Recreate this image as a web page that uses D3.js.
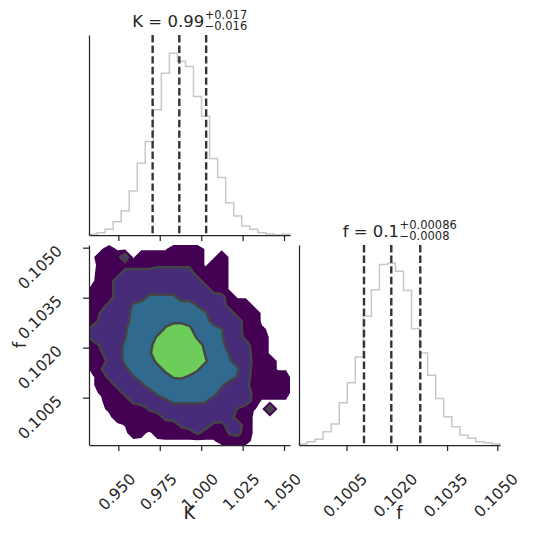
<!DOCTYPE html>
<html>
<head>
<meta charset="utf-8">
<script src="https://cdn.jsdelivr.net/npm/d3@7"></script>
<style>
  html, body { margin: 0; padding: 0; background: #fff; }
  svg { display: block; font-family: "DejaVu Sans", sans-serif; }
</style>
</head>
<body>
<div id="vis"></div>
<script>
// parameter ranges (shared by the 1D and 2D panels)
const kRange = [0.9323, 1.0536]
const fRange = [0.09908, 0.10508]

const kTicks = [0.950, 0.975, 1.000, 1.025, 1.050]
const kTickLabels = ['0.950', '0.975', '1.000', '1.025', '1.050']
const fTicks = [0.1005, 0.1020, 0.1035, 0.1050]
const fTickLabels = ['0.1005', '0.1020', '0.1035', '0.1050']

// 25-bin marginal histograms
const kCounts = [2, 7, 17, 40, 72, 132, 216, 281, 377, 487, 547, 523, 507, 417, 357, 230, 173, 97, 57, 27, 17, 7, 3, 0, 2]
const fCounts = [3, 10, 17, 40, 63, 127, 187, 265, 387, 467, 543, 547, 523, 465, 350, 277, 210, 140, 85, 55, 30, 20, 10, 7, 3]

// 16 / 50 / 84 percentiles
const kQuantiles = [0.9707, 0.9868, 1.0030]
const fQuantiles = [0.10102, 0.101835, 0.10270]

const kTitle = { main: 'K = 0.99', sup: '+0.017', sub: '\u22120.016' }
const fTitle = { main: 'f = 0.1', sup: '+0.00086', sub: '\u22120.0008' }

// 2D density, 25 x 25 cells, first row = highest f
const densityRows = [
  [0,0,1,0,0,0,0,0,0,0,1,1,1,1,0,0,0,0,0,0,0,0,0,0,0],
  [0,1,1,1,2.4,0,1,1,1,1,1,1,1,1,0,0,1,0,0,0,0,0,0,0,0],
  [0,0.4,1,1,1,1,1,1,1.3,1.3,1.3,1.3,1.3,1,0,1,1,0,0,0,0,0,0,0,0],
  [0,0.6,1,1,2,2,2,2,2,2,2,2,2,1,1,1,1,0,0,0,0,0,0,0,0],
  [0,1,1,2,2,2,2,2,2,2,2,2,2,2,1,1,1,0,0,0,0,0,0,0,0],
  [1,1,1,2,2,2,2,2,2,2,2,2,2,2,2,1,1,0,0,0,0,0,0,0,0],
  [1,1,1,2,2,2,2,2.7,2.7,2.7,2.7,2,2,2,2,2,1.8,1,0,0,0,0,0,0,0],
  [1,1,1.8,2,2,2.6,3,3,3,3,3,3,3,2.4,2,2,2,1,1,1,0,0,0,0,0],
  [1,1.6,2,2,2,2.8,3,3,3,3,3,3,3,3,2.6,2,2,2,1,1,1,0,0,0,0],
  [1,1.8,2,2,2,3,3,3,3,3.2,3.3,3.3,3.2,3,3,2,2,2,2,1,1,0,0,0,0],
  [2,2,2,2,2.4,3,3,3,3,3.6,4,4,3.7,3,3,3,2.55,2,2,1,1,0.3,0,0,0],
  [2,2,2,2,2.45,3,3,3,3.6,4.2,4.5,4.4,4.2,3.3,3,3,2.6,2,2,1.2,1,1,0,0,0],
  [1,1.7,2,2,2.7,3,3,3.2,4,4.6,4.8,4.7,4.5,4,3.2,3,2.8,2,2,2,1,1,0,0,0],
  [1,1.4,2,2,2.8,3,3,3.3,4.2,4.7,5,4.8,4.6,4.2,3.4,3,3,2.4,2,2,1.2,1,0,0,0],
  [1,1,1.8,2,2.7,3,3,3.1,3.7,4.3,4.6,4.5,4.4,4,3.6,3,3,2.6,2,2,1.3,1,1,0,0],
  [1,1.45,2,2,2.3,3,3,3,3.2,3.7,4.2,4.1,3.9,3.6,3.1,3,3,3,2.6,2,1.2,1,1,0,0],
  [0,1,1.7,2,2,2.4,3,3,3,3.2,3.55,3.6,3.4,3.2,3,3,3,3,2.4,2,1.1,1,1,1,1],
  [0,1,1,1.8,2,2,2.3,3,3,3,3.1,3.1,3,3,3,3,2.7,2,2,1.8,1,1,1,1,1],
  [0,0.25,1,1,1.8,2,2,2,2.7,3,3,3,3,3,3,2.9,2,2,2,2,1.3,1,1,1,1],
  [0,0,1,1,1,1.7,2,2,2,2.3,2.7,2.7,2.7,2.7,2.6,2,2,2,2,2,1.2,0,0,0,0],
  [0,0,0.3,1,1,1,1,1.6,2,2,2,2,2,2,2,2,2,2,1.45,1,0.2,0,2.6,0,0],
  [0,0,0,0.6,1,1,1,1,1,1.8,2,2,2,2,2,2,2,1.9,1,1,0,0,0,0,0],
  [0,0,0,0,0.2,1,1,1,1,1,1,1.7,2,2,2,1.3,1.2,2,2,1,0,0,0,0,0],
  [0,0,0,0,0,0.6,0.4,0,0.6,1,1,1,1,1.7,1,1,1,1.6,1.8,1,0,0,0,0,0],
  [0,0,0,0,0,0,0,0,0,0,0,0,0,0,0,0,1,1,1,0.4,0,0,0,0,0]
]
const levels = [0.15, 1.5, 2.5, 3.5]
const levelColors = ['#440154', '#472c7a', '#306a8e', '#6ccd5a']

const ink = '#262626'
const tickFont = 15.5
const width = 533, height = 534

// panel boxes
const colX = [89, 299], panelW = 201
const rowY = [35, 245], panelH = 200

let svg = d3.select('#vis').append('svg')
  .attr('width', width)
  .attr('height', height)

// scales
const kX = d3.scaleLinear().domain(kRange).range([colX[0], colX[0] + panelW])
const fX = d3.scaleLinear().domain(fRange).range([colX[1], colX[1] + panelW])
const fY = d3.scaleLinear().domain(fRange).range([rowY[1] + panelH, rowY[1]])
const kHistY = d3.scaleLinear().domain([0, 1.1 * d3.max(kCounts)]).range([rowY[0] + panelH, rowY[0]])
const fHistY = d3.scaleLinear().domain([0, 1.1 * d3.max(fCounts)]).range([rowY[1] + panelH, rowY[1]])

// ---------- 2D panel: filled contours ----------
const nx = densityRows[0].length, ny = densityRows.length
const dk = (kRange[1] - kRange[0]) / nx
const df = (fRange[1] - fRange[0]) / ny

svg.append('clipPath').attr('id', 'clip2d')
  .append('rect')
  .attr('x', colX[0]).attr('y', rowY[1])
  .attr('width', panelW).attr('height', panelH)

const contours = d3.contours()
  .size([nx, ny])
  .thresholds(levels)(densityRows.flat())

const proj = d3.geoTransform({
  point: function (x, y) {
    this.stream.point(kX(kRange[0] + x * dk), fY(fRange[1] - y * df))
  }
})
const path = d3.geoPath(proj)

const g2d = svg.append('g').attr('clip-path', 'url(#clip2d)')

g2d.selectAll('path.fill')
  .data(contours)
  .enter()
  .append('path')
  .attr('class', 'fill')
  .attr('d', path)
  .attr('fill', (d, i) => levelColors[i])
  .attr('fill-rule', 'evenodd')

// contour lines (not on the outermost level)
g2d.selectAll('path.line')
  .data(contours.slice(1))
  .enter()
  .append('path')
  .attr('class', 'line')
  .attr('d', path)
  .attr('fill', 'none')
  .attr('stroke', '#454545')
  .attr('stroke-width', 2.4)
  .attr('stroke-linejoin', 'round')

// ---------- 1D histograms ----------
function stepPoints(counts, lo, bw) {
  let pts = [[lo, 0]]
  counts.forEach((c, i) => {
    pts.push([lo + i * bw, c])
    pts.push([lo + (i + 1) * bw, c])
  })
  pts.push([lo + counts.length * bw, 0])
  return pts
}

svg.append('path')
  .datum(stepPoints(kCounts, kRange[0], (kRange[1] - kRange[0]) / kCounts.length))
  .attr('d', d3.line().x(d => kX(d[0])).y(d => kHistY(d[1])))
  .attr('fill', 'none')
  .attr('stroke', '#c8c8c8')
  .attr('stroke-width', 1.5)

svg.append('path')
  .datum(stepPoints(fCounts, fRange[0], (fRange[1] - fRange[0]) / fCounts.length))
  .attr('d', d3.line().x(d => fX(d[0])).y(d => fHistY(d[1])))
  .attr('fill', 'none')
  .attr('stroke', '#c8c8c8')
  .attr('stroke-width', 1.5)

// quantile lines
function quantLines(q, xs, y0, y1) {
  svg.selectAll(null)
    .data(q)
    .enter()
    .append('line')
    .attr('x1', d => xs(d)).attr('x2', d => xs(d))
    .attr('y1', y0).attr('y2', y1)
    .attr('stroke', '#333')
    .attr('stroke-width', 2.4)
    .attr('stroke-dasharray', '7.4,3.2')
}
quantLines(kQuantiles, kX, rowY[0], rowY[0] + panelH)
quantLines(fQuantiles, fX, rowY[1], rowY[1] + panelH)

// ---------- axes ----------
function styleAxis(g) {
  g.select('.domain').attr('stroke', ink).attr('stroke-width', 1.25)
  g.selectAll('.tick line').attr('stroke', ink).attr('stroke-width', 1.25)
  g.selectAll('.tick text')
    .attr('fill', ink)
    .attr('font-size', tickFont)
    .attr('font-family', '"DejaVu Sans", sans-serif')
}

function rotateBottomLabels(g) {
  g.selectAll('.tick text').each(function () {
    const L = this.getComputedTextLength()
    const s = (L + 0.73 * tickFont) / (2 * Math.SQRT2)
    d3.select(this)
      .attr('x', 0).attr('y', 0).attr('dy', '0.36em')
      .attr('text-anchor', 'middle')
      .attr('transform', `translate(-2,${27 + s}) rotate(-45)`)
  })
}

function rotateLeftLabels(g) {
  g.selectAll('.tick text').each(function () {
    const L = this.getComputedTextLength()
    const s = (L + 0.73 * tickFont) / (2 * Math.SQRT2)
    d3.select(this)
      .attr('x', 0).attr('y', 0).attr('dy', '0.36em')
      .attr('text-anchor', 'middle')
      .attr('transform', `translate(${-26 - s},19) rotate(-45)`)
  })
}

// top-left: K histogram
let a1 = svg.append('g')
  .attr('transform', `translate(0,${rowY[0] + panelH})`)
  .call(d3.axisBottom(kX).tickValues(kTicks).tickFormat('').tickSize(6).tickSizeOuter(0))
styleAxis(a1)
let a1l = svg.append('g')
  .attr('transform', `translate(${colX[0]},0)`)
  .call(d3.axisLeft(kHistY).tickValues([]).tickSizeOuter(0))
styleAxis(a1l)

// bottom-left: 2D
let a2 = svg.append('g')
  .attr('transform', `translate(0,${rowY[1] + panelH})`)
  .call(d3.axisBottom(kX).tickValues(kTicks).tickFormat((d, i) => kTickLabels[i]).tickSize(6).tickSizeOuter(0))
styleAxis(a2)
rotateBottomLabels(a2)
let a2l = svg.append('g')
  .attr('transform', `translate(${colX[0]},0)`)
  .call(d3.axisLeft(fY).tickValues(fTicks).tickFormat((d, i) => fTickLabels[i]).tickSize(6).tickSizeOuter(0))
styleAxis(a2l)
rotateLeftLabels(a2l)

// bottom-right: f histogram
let a3 = svg.append('g')
  .attr('transform', `translate(0,${rowY[1] + panelH})`)
  .call(d3.axisBottom(fX).tickValues(fTicks).tickFormat((d, i) => fTickLabels[i]).tickSize(6).tickSizeOuter(0))
styleAxis(a3)
rotateBottomLabels(a3)
let a3l = svg.append('g')
  .attr('transform', `translate(${colX[1]},0)`)
  .call(d3.axisLeft(fHistY).tickValues([]).tickSizeOuter(0))
styleAxis(a3l)

// axis labels
svg.append('text')
  .attr('x', colX[0] + panelW / 2).attr('y', 519)
  .attr('text-anchor', 'middle').attr('font-size', 18).attr('fill', ink)
  .text('K')
svg.append('text')
  .attr('x', colX[1] + panelW / 2).attr('y', 519)
  .attr('text-anchor', 'middle').attr('font-size', 18).attr('fill', ink)
  .text('f')
svg.append('text')
  .attr('font-size', 18).attr('fill', ink)
  .attr('text-anchor', 'middle')
  .attr('transform', `translate(20,${rowY[1] + panelH / 2}) rotate(-90)`)
  .attr('dy', '0.36em')
  .text('f')

// titles: one text element, super/subscript as tspans
function drawTitle(cx, baseline, t) {
  const txt = svg.append('text').attr('y', baseline).attr('fill', ink)
  const main = txt.append('tspan').attr('font-size', 16.5).text(t.main)
  const sup = txt.append('tspan').attr('font-size', 11.5).attr('dy', -7.4).text(t.sup)
  const sub = txt.append('tspan').attr('font-size', 11.5).attr('y', baseline + 3.3).text(t.sub)
  const w1 = main.node().getComputedTextLength()
  const w2 = Math.max(sup.node().getComputedTextLength(), sub.node().getComputedTextLength())
  const x0 = cx - (w1 + w2) / 2
  main.attr('x', x0)
  sup.attr('x', x0 + w1 + 0.5)
  sub.attr('x', x0 + w1 + 0.5)
}
drawTitle(colX[0] + panelW / 2, rowY[0] - 8.3, kTitle)
drawTitle(colX[1] + panelW / 2, rowY[1] - 8.3, fTitle)
</script>
</body>
</html>
